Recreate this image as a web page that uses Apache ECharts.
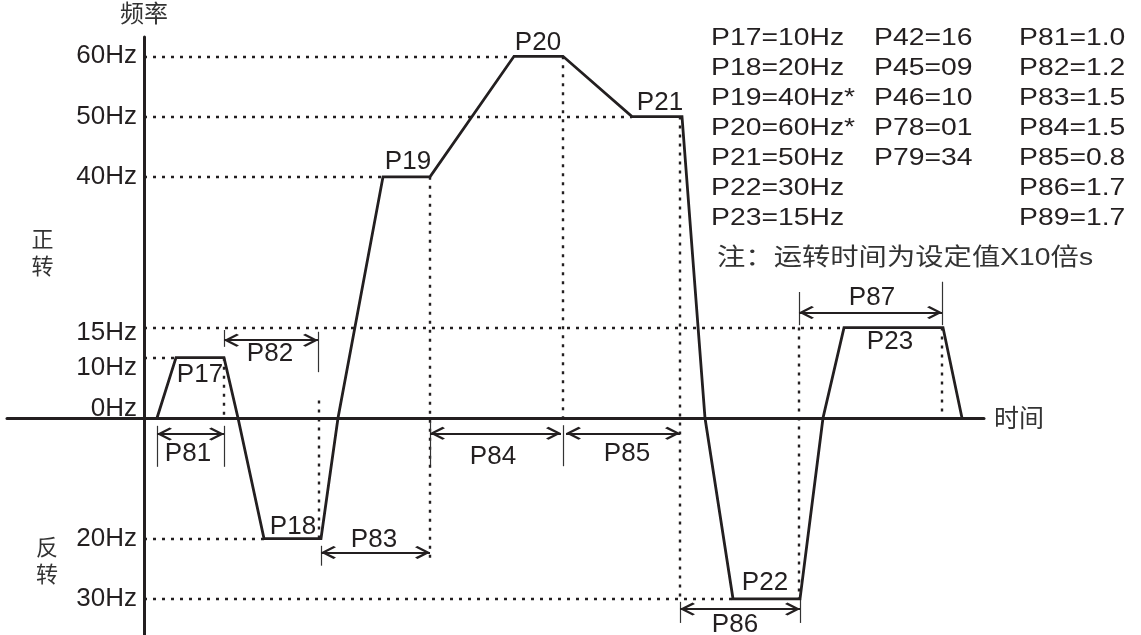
<!DOCTYPE html>
<html><head><meta charset="utf-8">
<script src="https://cdn.jsdelivr.net/npm/echarts@6/dist/echarts.min.js"></script>
<style>html,body{margin:0;padding:0;background:#fff}#c{width:1141px;height:635px}</style>
</head><body><div id="c"></div>
<script>
// ---- data ----
const curveTime = [1.3, 3.2, 8.0, 9.4, 12.0, 17.7, 19.4, 23.9, 28.6, 37.0, 41.9, 48.8, 53.8, 56.1, 58.9, 65.6, 67.9, 70.0, 79.9, 81.8];
const curveFreq = [0, 10, 10, 0, -20, -20, 0, 40, 40, 60, 60, 50, 50, 0, -30, -30, 0, 15, 15, 0];
const yTickValues = [60, 50, 40, 15, 10, 0, -20, -30];
const yTickLabels = ['60Hz', '50Hz', '40Hz', '15Hz', '10Hz', '0Hz', '20Hz', '30Hz'];
// horizontal dotted guides: level, end time
const hGuideLevel = [60, 50, 40, 15, 10, -20, -30];
const hGuideEnd = [37.0, 48.8, 23.9, 70.0, 3.2, 12.0, 58.9];
// vertical dotted guides: time, from, to
const vGuideTime = [8.0, 17.5, 28.6, 41.9, 53.6, 65.5, 79.8];
const vGuideFrom = [10, -20, 40, 60, 50, 15, 15];
const vGuideTo = [0, 3.8, -24, 0, -30, -30, 0];
// solid short ticks: time, from, to
const tickTime = [1.3, 8.0, 8.0, 17.4, 17.7, 28.6, 41.9, 53.6, 65.6, 65.5, 79.8];
const tickFrom = [-1.3, -1.3, 11.8, 7.6, -21.2, -0.6, -1.2, -30.5, -30, 15.4, 15.4];
const tickTo = [-8.1, -8.1, 14.6, 14.3, -24.5, -7.8, -8.0, -34, -34, 20.9, 22.6];
// double arrows: start, end, level
const arrowStart = [1.3, 8.0, 17.7, 28.6, 42.2, 53.6, 65.5];
const arrowEnd = [8.0, 17.4, 28.6, 41.7, 53.6, 65.6, 79.8];
const arrowLevel = [-2.65, 12.9, -22.3, -2.55, -2.55, -31.7, 17.5];
// labels
const labelNames = ['P17', 'P18', 'P19', 'P20', 'P21', 'P22', 'P23', 'P81', 'P82', 'P83', 'P84', 'P85', 'P86', 'P87'];
const labelTime = [5.6, 14.9, 26.4, 39.4, 51.6, 62.1, 74.6, 4.4, 12.6, 23.0, 34.9, 48.3, 59.1, 72.8];
const labelFreq = [7.1, -18.0, 42.5, 62.3, 52.2, -27.4, 12.65, -6.0, 10.6, -20.2, -6.4, -6.0, -34.3, 19.9];
// parameter table
const textCol1 = ['P17=10Hz', 'P18=20Hz', 'P19=40Hz*', 'P20=60Hz*', 'P21=50Hz', 'P22=30Hz', 'P23=15Hz'];
const textCol2 = ['P42=16', 'P45=09', 'P46=10', 'P78=01', 'P79=34'];
const textCol3 = ['P81=1.0', 'P82=1.2', 'P83=1.5', 'P84=1.5', 'P85=0.8', 'P86=1.7', 'P89=1.7'];
const noteText = '注：运转时间为设定值X10倍s';

// ---- chart ----
const INK = '#231f20';
const LATIN = '"Liberation Sans", Arial, sans-serif';
const CJK = '"Liberation Sans", "Noto Sans CJK SC", sans-serif';
const CJKONLY = '"Noto Sans CJK SC", sans-serif';
const chevron = 'path://M10,0L10.01,0L10,0.01Z M10,12 L20,22.4 L18,24.4 L10,16 L2,24.4 L0,22.4 Z';

const chart = echarts.init(document.getElementById('c'), null, { renderer: 'canvas' });

const hGuides = hGuideLevel.map((lv, i) => [{ coord: [0, lv] }, { coord: [hGuideEnd[i], lv] }]);
const vGuides = vGuideTime.map((t, i) => [{ coord: [t, vGuideFrom[i]] }, { coord: [t, vGuideTo[i]] }]);
const ticks = tickTime.map((t, i) => [{ coord: [t, tickFrom[i]] }, { coord: [t, tickTo[i]] }]);
const arrows = arrowStart.map((s, i) => [{ coord: [s, arrowLevel[i]] }, { coord: [arrowEnd[i], arrowLevel[i]] }]);

function yLabel(v) {
  const i = yTickValues.indexOf(v);
  const t = i >= 0 ? yTickLabels[i] : '';
  if (v === 0) return '{up|' + t + '}';
  if (v === 10) return '{dn|' + t + '}';
  if (v === 15) return '{dn2|' + t + '}';
  return '{n|' + t + '}';
}

chart.setOption({
  animation: false,
  backgroundColor: '#fff',
  grid: { left: 7, right: 157, top: 37, bottom: 0, containLabel: false, outerBoundsMode: 'none' },
  xAxis: {
    type: 'value', min: -13.7, max: 84.0,
    axisLine: { onZero: true, lineStyle: { color: INK, width: 3 } },
    axisTick: { show: false }, axisLabel: { show: false }, splitLine: { show: false },
    name: '时间', nameLocation: 'end', nameGap: 10,
    nameTextStyle: { fontSize: 25, color: '#333', fontFamily: CJKONLY, verticalAlign: 'middle' }
  },
  yAxis: {
    type: 'value', min: -36, max: 63.2, offset: -137,
    axisLine: { onZero: false, lineStyle: { color: INK, width: 3 } },
    axisTick: { show: false }, splitLine: { show: false },
    axisLabel: {
      customValues: yTickValues, formatter: yLabel, margin: 7, color: INK,
      fontSize: 26, fontFamily: LATIN,
      rich: {
        n: { fontSize: 26, fontFamily: LATIN, color: INK },
        up: { fontSize: 26, fontFamily: LATIN, color: INK, padding: [0, 0, 18, 0] },
        dn: { fontSize: 26, fontFamily: LATIN, color: INK, padding: [20, 0, 0, 0] },
        dn2: { fontSize: 26, fontFamily: LATIN, color: INK, padding: [10, 0, 0, 0] }
      }
    },
    name: '频率', nameLocation: 'end', nameGap: 12,
    nameTextStyle: { fontSize: 24, color: '#333', fontFamily: CJKONLY }
  },
  series: [
    {
      name: 'guides', type: 'line', data: [], silent: true,
      markLine: {
        silent: true, symbol: ['none', 'none'], label: { show: false },
        lineStyle: { color: INK, width: 2.4, type: [3, 6] },
        emphasis: { disabled: true },
        data: hGuides.concat(vGuides)
      }
    },
    {
      name: 'ticks', type: 'line', data: [], silent: true,
      markLine: {
        silent: true, symbol: ['none', 'none'], label: { show: false },
        lineStyle: { color: '#333', width: 1.2, type: 'solid' },
        emphasis: { disabled: true },
        data: ticks
      }
    },
    {
      name: 'arrows', type: 'line', data: [], silent: true,
      markLine: {
        silent: true, symbol: [chevron, chevron], symbolSize: [13, 30], label: { show: false },
        lineStyle: { color: INK, width: 1.8, type: 'solid' },
        itemStyle: { color: INK },
        emphasis: { disabled: true },
        data: arrows
      }
    },
    {
      name: 'curve', type: 'line', symbol: 'none', silent: true,
      lineStyle: { color: INK, width: 2.8, join: 'miter' },
      data: curveTime.map((t, i) => [t, curveFreq[i]]),
      z: 5
    },
    {
      name: 'labels', type: 'scatter', symbolSize: 1, silent: true,
      itemStyle: { color: 'rgba(0,0,0,0)', opacity: 1 },
      label: { show: true, position: 'inside', formatter: '{b}', fontSize: 26, color: INK, opacity: 1, fontFamily: LATIN },
      data: labelNames.map((n, i) => ({ name: n, value: [labelTime[i], labelFreq[i]] })),
      z: 6
    }
  ],
  graphic: [
    { type: 'text', x: 711, y: 23, scaleX: 1.18, silent: true,
      style: { text: textCol1.join('\n'), fontSize: 24, fontFamily: LATIN, fill: INK, lineHeight: 30 } },
    { type: 'text', x: 874, y: 23, scaleX: 1.18, silent: true,
      style: { text: textCol2.join('\n'), fontSize: 24, fontFamily: LATIN, fill: INK, lineHeight: 30 } },
    { type: 'text', x: 1019, y: 23, scaleX: 1.18, silent: true,
      style: { text: textCol3.join('\n'), fontSize: 24, fontFamily: LATIN, fill: INK, lineHeight: 30 } },
    { type: 'text', x: 717, y: 243, scaleX: 1.18, silent: true,
      style: { text: noteText, fontSize: 24, fontFamily: CJK, fill: '#333', lineHeight: 30 } },
    { type: 'text', x: 42.5, y: 225.5, silent: true,
      style: { text: '正\n转', fontSize: 22, fontFamily: CJKONLY, fill: '#333', lineHeight: 27, align: 'center' } },
    { type: 'text', x: 47, y: 533.5, silent: true,
      style: { text: '反\n转', fontSize: 22, fontFamily: CJKONLY, fill: '#333', lineHeight: 27, align: 'center' } }
  ]
});
</script></body></html>
